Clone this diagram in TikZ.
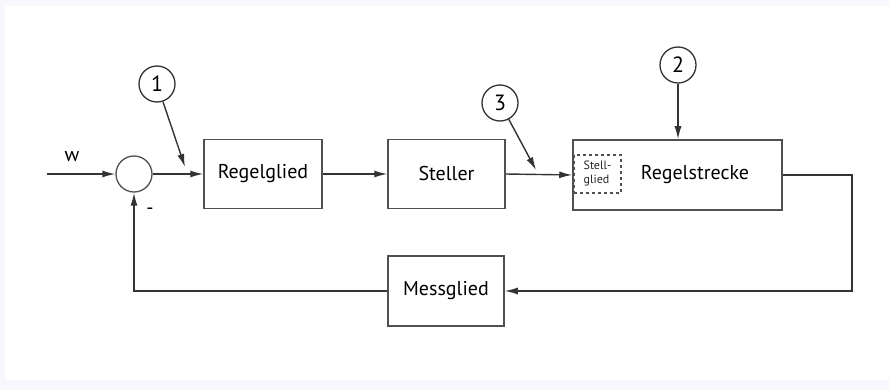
\documentclass[tikz,border=0pt]{standalone}
\usepackage{fontspec}
\setmainfont{PT Sans}
\usetikzlibrary{arrows.meta,calc}
\definecolor{bgframe}{HTML}{F6F8FD}
\definecolor{ln}{HTML}{333333}
\definecolor{bx}{HTML}{505050}
\begin{document}
\begin{tikzpicture}[x=1pt,y=-1pt,
  blk/.style={draw=bx,line width=1.5pt,minimum width=118pt,minimum height=69pt,inner sep=0pt,font=\fontsize{20}{22}\selectfont,text=black},
  sumc/.style={circle,draw=bx,line width=1.3pt,minimum size=36pt,inner sep=0pt},
  numc/.style={circle,draw=ln,line width=1.3pt,minimum size=36pt,inner sep=0pt,font=\fontsize{22}{24}\selectfont},
  sig/.style={draw=ln,line width=1.4pt},
  arr/.style={sig,-{Latex[length=13pt,width=7pt]}},
  lbl/.style={font=\fontsize{20}{22}\selectfont,text=black,inner sep=0pt}]
\useasboundingbox (0,0) rectangle (889,390);
\fill[bgframe] (0,0) rectangle (889,390);
\fill[white] (5,6) rectangle (889,380);

\node[sumc] (sum) at (134,174) {};
\coordinate (win) at (47,174);
\node[lbl] (w) at (72,157) {w};
\node[lbl] (minus) at (150,211) {-};

\node[blk] (regel) at (263,174) {Regelglied};
\node[blk,minimum width=117pt] (steller) at (446.5,174) {Steller};
\node[blk,minimum width=209pt,minimum height=70pt] (strecke) at (677.5,175) {};
\node[lbl] (streckeT) at (695,175) {Regelstrecke};
\node[draw=bx,dashed,line width=1.2pt,minimum width=47pt,minimum height=38pt,inner sep=0pt,
      align=left,font=\fontsize{12}{14}\selectfont,text=black!85] (stellg) at (597.5,174) {Stell-\\glied};
\node[blk,minimum width=116pt,minimum height=70pt] (mess) at (446,291) {Messglied};

\node[numc] (n1) at (157,84) {1};
\node[numc] (n2) at (678,65) {2};
\node[numc] (n3) at (500,103) {3};
\coordinate (t1) at (185,167);
\coordinate (t3) at (536,170);
\coordinate (c1) at (852,175);
\coordinate (c2) at (852,291);
\coordinate (c3) at (134,291);

\draw[arr] (win) -- (sum.west);
\draw[arr] (sum.east) -- (regel.west);
\draw[arr] (regel.east) -- (steller.west);
\draw[arr] (steller.east) -- (strecke.west);
\draw[arr] (strecke.east |- c1) -- (c1) -- (c2) -- (mess.east);
\draw[arr] (mess.west) -- (c3) -- (sum.south);

\draw[arr] (n1) -- (t1);
\draw[arr] (n2.south) -- (strecke.north -| n2);
\draw[arr] (n3) -- (t3);
\end{tikzpicture}
\end{document}
